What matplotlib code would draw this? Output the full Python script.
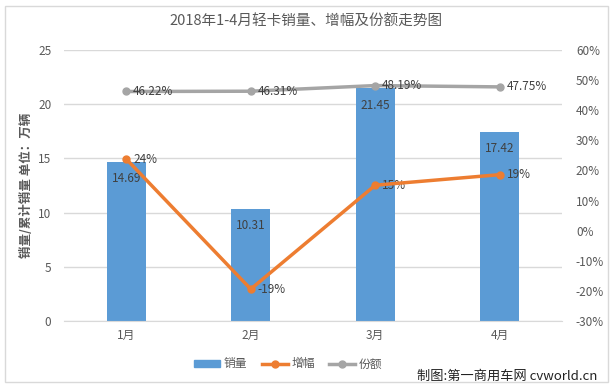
import matplotlib
matplotlib.use("Agg")
import matplotlib.pyplot as plt
from matplotlib.lines import Line2D
from matplotlib.patches import Patch, Rectangle

plt.rcParams['font.family'] = ['Noto Sans CJK SC', 'DejaVu Sans']

categories = ['1月', '2月', '3月', '4月']
sales = [14.69, 10.31, 21.45, 17.42]
growth = [0.238, -0.194, 0.151, 0.186]
growth_labels = ['24%', '-19%', '15%', '19%']
share = [0.4622, 0.4631, 0.4819, 0.4775]
share_labels = ['46.22%', '46.31%', '48.19%', '47.75%']

title = '2018年1-4月轻卡销量、增幅及份额走势图'
ylabel = '销量/累计销量 单位：万辆'
credit = '制图:第一商用车网 cvworld.cn'

BAR = '#5B9BD5'
ORANGE = '#ED7D31'
GRAY = '#A5A5A5'
TXT = '#595959'
GRID = '#D9D9D9'

fig = plt.figure(figsize=(6.13, 3.90), dpi=100)
fig.patch.set_facecolor('white')
fig.add_artist(Rectangle((0.008, 0.02), 0.984, 0.965, transform=fig.transFigure,
                         fill=False, edgecolor='#D9D9D9', linewidth=1))

ax = fig.add_axes([0.1044, 0.1769, 0.8124, 0.6949])
x = list(range(len(categories)))
ax.bar(x, sales, width=0.31, color=BAR, zorder=2)
ax.set_xlim(-0.5, 3.5)
ax.set_ylim(0, 25)
ax.set_yticks([0, 5, 10, 15, 20, 25])
ax.set_xticks(x)
ax.set_xticklabels(categories)
ax.yaxis.grid(True, color=GRID, linewidth=1, zorder=0)
ax.set_axisbelow(True)
for s in ['top', 'right', 'left']:
    ax.spines[s].set_visible(False)
ax.spines['bottom'].set_color(GRID)
ax.tick_params(axis='both', length=0, colors=TXT, labelsize=8.5)
ax.tick_params(axis='y', pad=9)
ax.tick_params(axis='x', pad=6)
ax.set_ylabel(ylabel, color=TXT, fontsize=9, fontweight='bold', labelpad=4)
for i, v in enumerate(sales):
    ax.annotate(f'{v:.2f}', (i, v), xytext=(0, -12), textcoords='offset points',
                ha='center', va='center', fontsize=8.5, color='#404040')

ax2 = ax.twinx()
ax2.set_ylim(-0.30, 0.60)
ax2.set_yticks([-0.3, -0.2, -0.1, 0, 0.1, 0.2, 0.3, 0.4, 0.5, 0.6])
ax2.set_yticklabels([f'{int(round(t*100))}%' for t in ax2.get_yticks()])
for s in ['top', 'right', 'left', 'bottom']:
    ax2.spines[s].set_visible(False)
ax2.tick_params(axis='y', length=0, colors=TXT, labelsize=8.5, pad=10)
ax2.plot(x, share, color=GRAY, linewidth=2.5, marker='o', markersize=5, zorder=3)
ax2.plot(x, growth, color=ORANGE, linewidth=2.5, marker='o', markersize=5, zorder=4)
for i, v in enumerate(share):
    ax2.annotate(share_labels[i], (i, v), xytext=(5, 0), textcoords='offset points',
                 ha='left', va='center', fontsize=8.5, color='#404040')
for i, v in enumerate(growth):
    ax2.annotate(growth_labels[i], (i, v), xytext=(5, 0), textcoords='offset points',
                 ha='left', va='center', fontsize=8.5, color='#404040')

fig.text(0.5, 0.943, title, ha='center', va='center', fontsize=10.5, color=TXT)

handles = [Patch(facecolor=BAR, edgecolor=BAR),
           Line2D([0], [0], color=ORANGE, lw=2.5, marker='o', markersize=5),
           Line2D([0], [0], color=GRAY, lw=2.5, marker='o', markersize=5)]
fig.legend(handles, ['销量', '增幅', '份额'], loc='center', bbox_to_anchor=(0.47, 0.067),
           ncol=3, frameon=False, fontsize=8.5, labelcolor=TXT, handlelength=2.2,
           handletextpad=0.3, columnspacing=1.2, handleheight=0.5)

fig.text(0.975, 0.035, credit, ha='right', va='center', fontsize=9.5, color='#222222')

fig.savefig('out.png', dpi=100)
